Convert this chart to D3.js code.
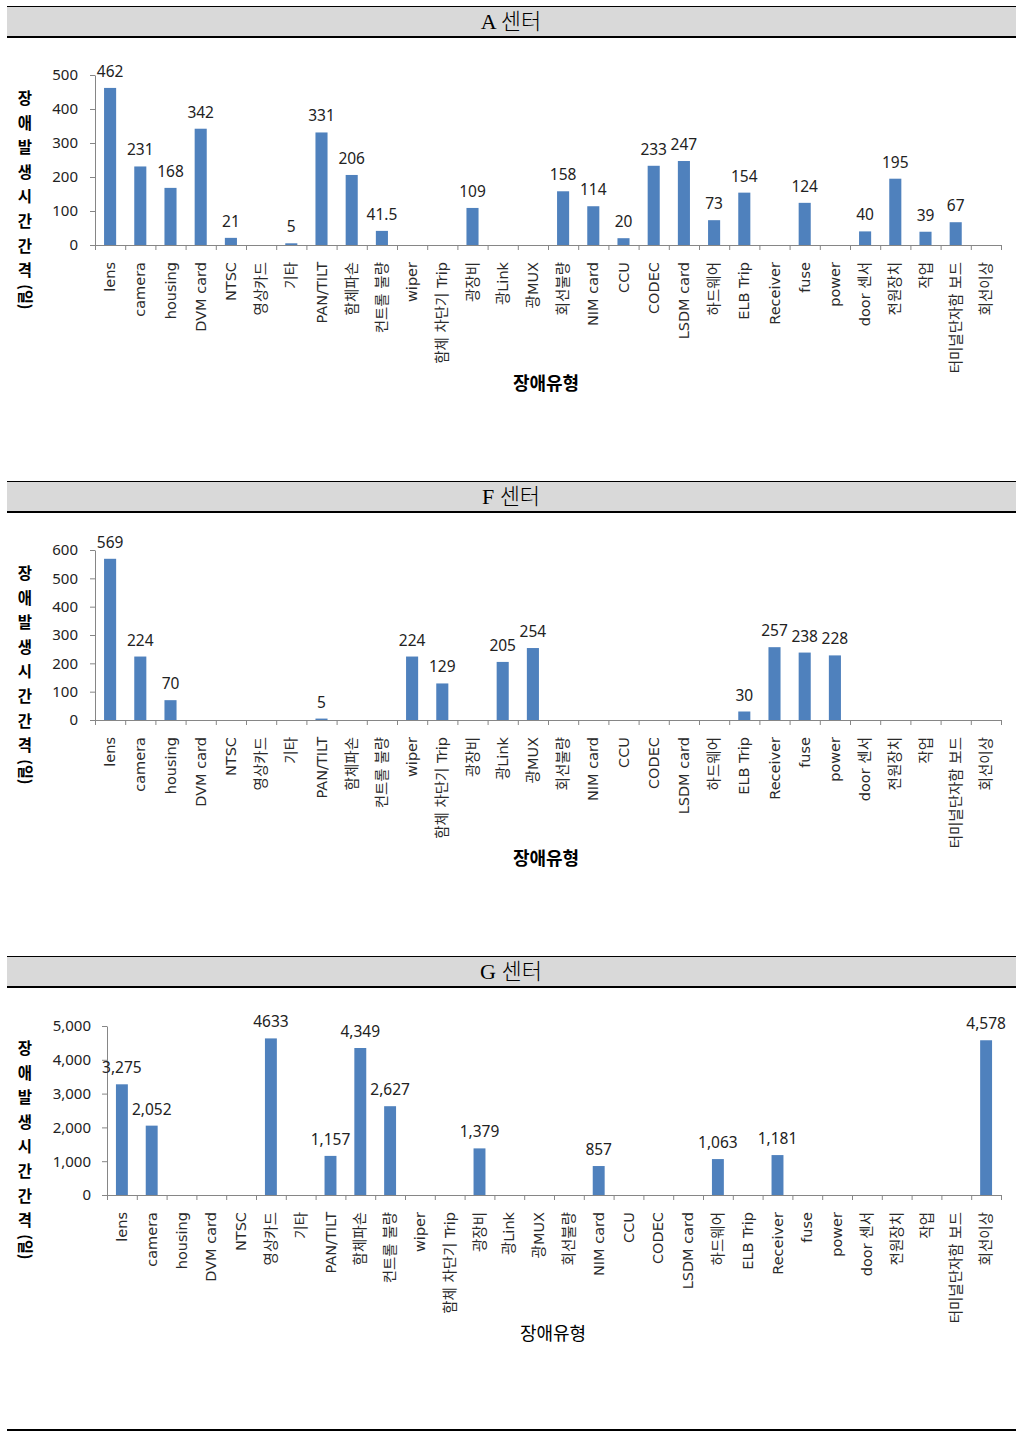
<!DOCTYPE html>
<html>
<head>
<meta charset="utf-8">
<script src="https://cdn.jsdelivr.net/npm/d3@7"></script>
<style>
  body { margin: 0; background: #fff; }
  svg { display: block; }
</style>
</head>
<body>
<svg id="chart"></svg>
<script>
// fault types, shared by all three centres
const categories = [
  "lens", "camera", "housing", "DVM card", "NTSC", "영상카드", "기타", "PAN/TILT",
  "함체파손", "컨트롤 불량", "wiper", "함체 차단기 Trip", "광장비", "광Link", "광MUX",
  "회선불량", "NIM card", "CCU", "CODEC", "LSDM card", "하드웨어", "ELB Trip",
  "Receiver", "fuse", "power", "door 센서", "전원장치", "작업", "터미널단자함 보드", "회선이상"
];

// A centre (null = no bar, no label)
const aValues = [
  462, 231, 168, 342, 21, null, 5, 331,
  206, 41.5, null, null, 109, null, null,
  158, 114, 20, 233, 247, 73, 154,
  null, 124, null, 40, 195, 39, 67, null
];
const aTicks = [0, 100, 200, 300, 400, 500];

// F centre
const fValues = [
  569, 224, 70, null, null, null, null, 5,
  null, null, 224, 129, null, 205, 254,
  null, null, null, null, null, null, 30,
  257, 238, 228, null, null, null, null, null
];
const fTicks = [0, 100, 200, 300, 400, 500, 600];

// G centre
const gValues = [
  3275, 2052, null, null, null, 4633, null, 1157,
  4349, 2627, null, null, 1379, null, null,
  null, 857, null, null, null, 1063, null,
  1181, null, null, null, null, null, null, 4578
];
const gLabels = [
  "3,275", "2,052", "", "", "", "4633", "", "1,157",
  "4,349", "2,627", "", "", "1,379", "", "",
  "", "857", "", "", "", "1,063", "",
  "1,181", "", "", "", "", "", "", "4,578"
];
const gTicks = [0, 1000, 2000, 3000, 4000, 5000];

const yTitleChars = ["장", "애", "발", "생", "시", "간", "간", "격"];

const W = 1022, H = 1438;
const svg = d3.select("#chart").attr("width", W).attr("height", H);

const sansFont = "'Noto Sans', 'Noto Sans CJK KR', sans-serif";
const tickFont = "'DejaVu Sans', 'Noto Sans CJK KR', sans-serif";
const axisColor = "#868686";
const barColor = "#4F81BD";

function drawHeader(top, title) {

  const g = svg.append("g").attr("transform", "translate(0," + top + ")");

  g.append("rect")
    .attr("x", 7).attr("y", 0).attr("width", 1009).attr("height", 31)
    .attr("fill", "#d9d9d9");
  g.append("line")
    .attr("x1", 7).attr("x2", 1016).attr("y1", 0.5).attr("y2", 0.5)
    .attr("stroke", "#000").attr("stroke-width", 1);
  g.append("line")
    .attr("x1", 7).attr("x2", 1016).attr("y1", 31).attr("y2", 31)
    .attr("stroke", "#000").attr("stroke-width", 2);
  g.append("text")
    .attr("x", 511).attr("y", 23)
    .attr("text-anchor", "middle")
    .attr("font-family", "'Liberation Serif', 'Noto Sans CJK KR', serif")
    .attr("font-size", 22)
    .attr("font-weight", 300)
    .attr("fill", "#000")
    .text(title);
}

function drawPanel(opts) {

  const g = svg.append("g");

  const x = d3.scaleBand()
    .domain(categories)
    .range([opts.left, 1001]);

  const xIdx = d3.scaleLinear()
    .domain([0, categories.length])
    .range([opts.left, 1001]);

  const y = d3.scaleLinear()
    .domain([0, opts.yMax])
    .range([opts.zero, opts.top]);

  // y axis
  const yAxis = g.append("g")
    .attr("transform", "translate(" + opts.left + ",0)")
    .call(d3.axisLeft(y)
      .tickValues(opts.ticks)
      .tickSize(5)
      .tickSizeOuter(0)
      .tickPadding(opts.tickPad)
      .tickFormat(opts.tickFormat));

  yAxis.select(".domain").attr("stroke", axisColor);
  yAxis.selectAll(".tick line").attr("stroke", axisColor);
  yAxis.selectAll(".tick text")
    .attr("font-family", sansFont)
    .attr("font-size", 15)
    .attr("fill", "#222");

  // x axis, ticks on category boundaries
  const xAxis = g.append("g")
    .attr("transform", "translate(0," + opts.zero + ")")
    .call(d3.axisBottom(xIdx)
      .tickValues(d3.range(categories.length + 1))
      .tickSize(5)
      .tickSizeOuter(0)
      .tickFormat(""));

  xAxis.select(".domain").attr("stroke", axisColor);
  xAxis.selectAll(".tick line").attr("stroke", axisColor);

  // category labels, rotated
  g.append("g").selectAll("text")
    .data(categories)
    .enter()
    .append("text")
    .attr("transform", d => "translate(" + (x(d) + x.bandwidth() / 2 + 5) + "," + (opts.zero + 17) + ") rotate(-90)")
    .attr("text-anchor", "end")
    .attr("font-family", tickFont)
    .attr("font-size", 14.5)
    .attr("fill", "#2a2a2a")
    .text(d => d);

  const rows = categories.map((c, i) => ({
    cat: c,
    value: opts.values[i],
    label: opts.labels ? opts.labels[i] : (opts.values[i] == null ? "" : String(opts.values[i]))
  })).filter(d => d.value != null);

  const barW = x.bandwidth() * 0.4;

  g.append("g").selectAll("rect")
    .data(rows)
    .enter()
    .append("rect")
    .attr("x", d => x(d.cat) + (x.bandwidth() - barW) / 2)
    .attr("y", d => y(d.value))
    .attr("width", barW)
    .attr("height", d => opts.zero - y(d.value))
    .attr("fill", barColor);

  g.append("g").selectAll("text")
    .data(rows)
    .enter()
    .append("text")
    .attr("x", d => x(d.cat) + x.bandwidth() / 2)
    .attr("y", d => y(d.value) - 11)
    .attr("text-anchor", "middle")
    .attr("font-family", sansFont)
    .attr("font-size", 15.5)
    .attr("fill", "#222")
    .text(d => d.label);

  // y title, one character per line
  g.append("g").selectAll("text")
    .data(yTitleChars)
    .enter()
    .append("text")
    .attr("x", 25)
    .attr("y", (d, i) => opts.yTitleTop + i * 24.6)
    .attr("text-anchor", "middle")
    .attr("font-family", "'Noto Sans CJK KR', sans-serif")
    .attr("font-weight", "bold")
    .attr("font-size", 15.5)
    .attr("fill", "#000")
    .text(d => d);

  g.append("text")
    .attr("transform", "translate(20," + (opts.yTitleTop + 8 * 24.6 - 4) + ") rotate(90)")
    .attr("text-anchor", "middle")
    .attr("font-family", "'Noto Sans CJK KR', sans-serif")
    .attr("font-weight", "bold")
    .attr("font-size", 15)
    .attr("fill", "#000")
    .text("(일)");

  // x title
  g.append("text")
    .attr("x", opts.xTitleX)
    .attr("y", opts.xTitleY)
    .attr("text-anchor", "middle")
    .attr("font-family", "'Noto Sans CJK KR', sans-serif")
    .attr("font-weight", opts.xTitleWeight)
    .attr("font-size", 18)
    .attr("fill", "#000")
    .text("장애유형");
}

drawHeader(6, "A  센터");
drawPanel({
  values: aValues, ticks: aTicks, yMax: 500,
  left: 95, zero: 245, top: 75, tickPad: 12, tickFormat: d3.format("d"),
  yTitleTop: 104, xTitleX: 546, xTitleY: 390, xTitleWeight: "bold"
});

drawHeader(481, "F  센터");
drawPanel({
  values: fValues, ticks: fTicks, yMax: 600,
  left: 95, zero: 720, top: 550, tickPad: 12, tickFormat: d3.format("d"),
  yTitleTop: 579, xTitleX: 546, xTitleY: 865, xTitleWeight: "bold"
});

drawHeader(956, "G  센터");
drawPanel({
  values: gValues, labels: gLabels, ticks: gTicks, yMax: 5000,
  left: 107, zero: 1195, top: 1026, tickPad: 11, tickFormat: d3.format(","),
  yTitleTop: 1054, xTitleX: 553, xTitleY: 1340, xTitleWeight: "normal"
});

// closing rule at the bottom of the page
svg.append("line")
  .attr("x1", 7).attr("x2", 1016).attr("y1", 1430).attr("y2", 1430)
  .attr("stroke", "#000").attr("stroke-width", 2);
</script>
</body>
</html>
